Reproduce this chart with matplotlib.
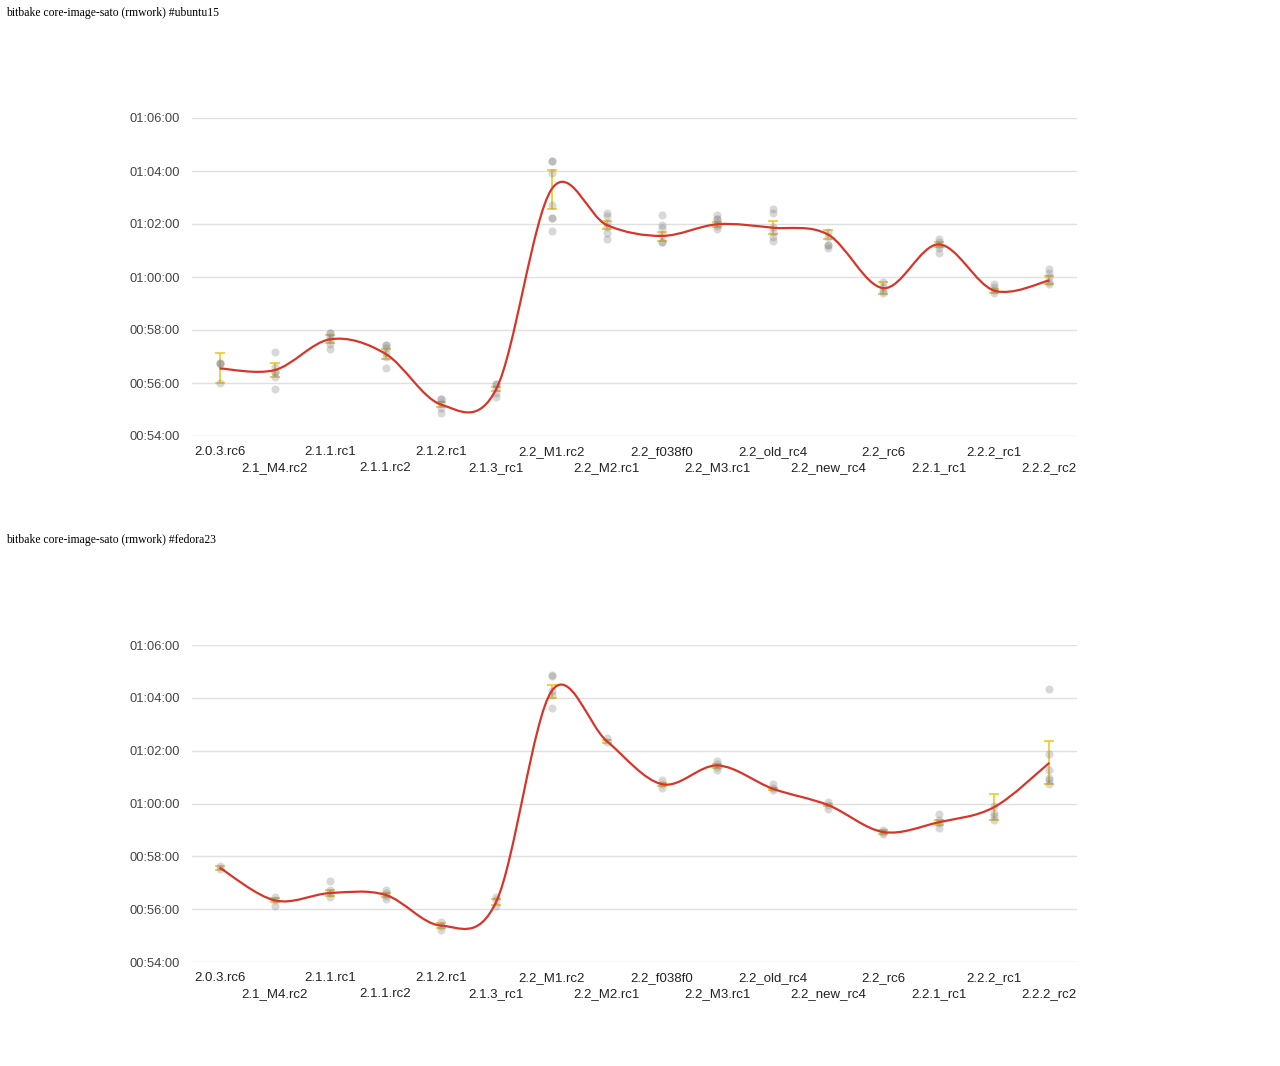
import numpy as np
import matplotlib
matplotlib.use("Agg")
import matplotlib.pyplot as plt
from matplotlib.path import Path
from matplotlib.patches import PathPatch
from matplotlib.ticker import FuncFormatter

# build labels (shared by both charts)
builds = ['2.0.3.rc6', '2.1_M4.rc2', '2.1.1.rc1', '2.1.1.rc2', '2.1.2.rc1',
          '2.1.3_rc1', '2.2_M1.rc2', '2.2_M2.rc1', '2.2_f038f0', '2.2_M3.rc1',
          '2.2_old_rc4', '2.2_new_rc4', '2.2_rc6', '2.2.1_rc1', '2.2.2_rc1',
          '2.2.2_rc2']

# build times in minutes
# --- ubuntu15 ---
ubuntu_runs = [
    [56.77, 56.77, 56.72, 56.01],
    [57.17, 56.62, 56.43, 56.43, 56.21, 55.76],
    [57.90, 57.90, 57.75, 57.62, 57.47, 57.27],
    [57.45, 57.45, 57.31, 57.12, 56.99, 56.57],
    [55.38, 55.38, 55.23, 55.04, 54.88],
    [55.95, 55.95, 55.80, 55.63, 55.48],
    [64.39, 64.39, 63.91, 62.72, 62.24, 62.24, 61.74],
    [62.43, 62.30, 62.05, 61.87, 61.65, 61.45],
    [62.35, 61.96, 61.84, 61.58, 61.33, 61.33],
    [62.34, 62.18, 62.18, 62.05, 61.92, 61.80],
    [62.55, 62.43, 61.90, 61.71, 61.52, 61.37],
    [61.71, 61.52, 61.21, 61.21, 61.08],
    [59.82, 59.63, 59.48, 59.38],
    [61.42, 61.33, 61.21, 61.08, 60.89],
    [59.74, 59.63, 59.51, 59.38],
    [60.29, 60.16, 59.99, 59.82, 59.74],
]
ubuntu_mean = [56.55, 56.49, 57.65, 57.10, 55.19, 55.77, 63.31, 61.96,
               61.55, 61.99, 61.86, 61.60, 59.58, 61.23, 59.49, 59.87]
ubuntu_lo = [55.99, 56.24, 57.50, 56.92, 55.11, 55.71, 62.57, 61.80,
             61.37, 61.87, 61.61, 61.42, 59.36, 61.14, 59.41, 59.74]
ubuntu_hi = [57.12, 56.77, 57.80, 57.29, 55.28, 55.84, 64.04, 62.13,
             61.71, 62.09, 62.11, 61.77, 59.80, 61.31, 59.56, 60.02]

# --- fedora23 ---
fedora_runs = [
    [57.62, 57.52],
    [56.46, 56.33, 56.11],
    [57.05, 56.74, 56.61, 56.46],
    [56.71, 56.61, 56.51, 56.39],
    [55.50, 55.37, 55.22],
    [56.46, 56.33, 56.13],
    [64.88, 64.82, 64.25, 64.12, 63.62],
    [62.48, 62.32],
    [60.88, 60.75, 60.59],
    [61.62, 61.51, 61.39, 61.28],
    [60.72, 60.59, 60.50],
    [60.05, 59.93, 59.81],
    [59.01, 58.91, 58.86],
    [59.62, 59.39, 59.27, 59.08],
    [59.89, 59.64, 59.54, 59.39],
    [64.35, 61.89, 61.25, 60.97, 60.88, 60.72],
]
fedora_mean = [57.57, 56.33, 56.61, 56.54, 55.38, 56.28, 64.25, 62.36,
               60.73, 61.44, 60.56, 59.94, 58.92, 59.29, 59.86, 61.54]
fedora_lo = [57.50, 56.26, 56.51, 56.46, 55.29, 56.17, 64.00, 62.30,
             60.68, 61.36, 60.52, 59.90, 58.86, 59.20, 59.36, 60.72]
fedora_hi = [57.65, 56.42, 56.74, 56.61, 55.47, 56.38, 64.50, 62.42,
             60.78, 61.50, 60.60, 59.98, 58.99, 59.36, 60.36, 62.36]

RED = '#d8352a'
YELLOW = '#f1ca3a'
TXT = '#444444'


def hms(v, pos=None):
    s = int(round(v * 60))
    return '%02d:%02d:%02d' % (s // 3600, (s % 3600) // 60, s % 60)


def smooth_path(xs, ys):
    # catmull-rom spline through the means, drawn as bezier segments
    pts = np.column_stack([xs, ys]).astype(float)
    ext = np.vstack([pts[0], pts, pts[-1]])
    verts = [pts[0]]
    codes = [Path.MOVETO]
    for i in range(1, len(ext) - 2):
        p0, p1, p2, p3 = ext[i - 1], ext[i], ext[i + 1], ext[i + 2]
        verts += [p1 + (p2 - p0) / 6, p2 - (p3 - p1) / 6, p2]
        codes += [Path.CURVE4] * 3
    return Path(verts, codes)


def draw_chart(ax, runs, mean, lo, hi):
    x = np.arange(len(builds))
    for i, vals in enumerate(runs):
        ax.scatter([i] * len(vals), vals, s=34, color='#808080', alpha=0.3,
                   linewidths=0, zorder=3)
    mean = np.array(mean)
    ax.errorbar(x, mean, yerr=[mean - np.array(lo), np.array(hi) - mean],
                fmt='none', ecolor=YELLOW, elinewidth=1.3, capsize=3.8,
                capthick=1.3, zorder=2)
    ax.add_patch(PathPatch(smooth_path(x, mean), facecolor='none',
                           edgecolor=RED, lw=1.6, zorder=4))

    ax.set_xlim(-0.5, len(builds) - 0.5)
    ax.set_ylim(54, 66)
    ax.set_yticks(np.arange(54, 67, 2))
    ax.yaxis.set_major_formatter(FuncFormatter(hms))
    ax.grid(axis='y', color='#e0e0e0', lw=1)
    ax.set_axisbelow(True)
    for sp in ax.spines.values():
        sp.set_visible(False)

    ax.set_xticks(x[::2])
    ax.set_xticklabels(builds[::2])
    ax.set_xticks(x[1::2], minor=True)
    ax.set_xticklabels(builds[1::2], minor=True)
    ax.tick_params(axis='x', which='major', length=0, pad=7.5, labelsize=9.5,
                   labelcolor='#222222')
    ax.tick_params(axis='x', which='minor', length=0, pad=18.5, labelsize=9.5,
                   labelcolor='#222222')
    ax.tick_params(axis='y', length=0, pad=8.5, labelsize=9.3, labelcolor=TXT)


plt.rcParams['font.family'] = ['Liberation Sans', 'DejaVu Sans']
fig = plt.figure(figsize=(12.8, 10.66), dpi=100)
W, H = 1280, 1066

ax1 = fig.add_axes([192 / W, 1 - 436 / H, 885 / W, 318 / H])
draw_chart(ax1, ubuntu_runs, ubuntu_mean, ubuntu_lo, ubuntu_hi)
ax2 = fig.add_axes([192 / W, 1 - 962 / H, 885 / W, 317 / H])
draw_chart(ax2, fedora_runs, fedora_mean, fedora_lo, fedora_hi)

fig.text(6 / W, 1 - 13 / H, 'bitbake core-image-sato (rmwork) #ubuntu15',
         family='Liberation Serif', fontsize=8.4, va='center', color='#000000')
fig.text(6 / W, 1 - 540 / H, 'bitbake core-image-sato (rmwork) #fedora23',
         family='Liberation Serif', fontsize=8.4, va='center', color='#000000')

fig.savefig('out.png', dpi=100, facecolor='white')
